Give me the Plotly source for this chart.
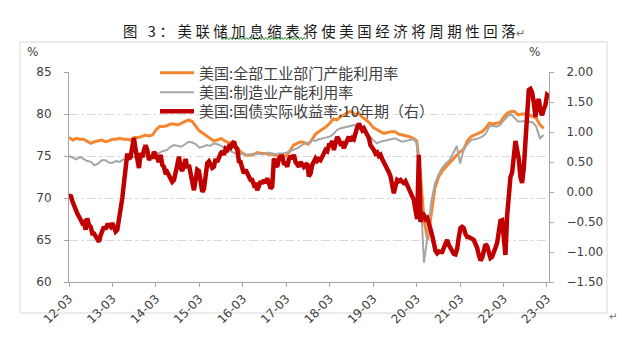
import pandas as pd
import plotly.graph_objects as go

# ---------------- data ----------------
tick_dates = ["2012-03-01", "2013-03-01", "2014-03-01", "2015-03-01", "2016-03-01", "2017-03-01",
              "2018-03-01", "2019-03-01", "2020-03-01", "2021-03-01", "2022-03-01", "2023-03-01"]
tick_labels = ["12-03", "13-03", "14-03", "15-03", "16-03", "17-03",
               "18-03", "19-03", "20-03", "21-03", "22-03", "23-03"]

monthly_start = "2012-03-01"   # monthly series, Mar-2012 ... Feb-2023

# US: total industry capacity utilization (%)
cap_total = [
    77.2, 76.9, 77.1, 77.0, 77.0, 76.7, 76.5, 76.7, 76.8, 76.9, 76.7, 76.8,
    77.0, 77.0, 77.1, 77.0, 77.0, 76.9, 77.2, 77.2, 77.3, 77.5, 77.4, 77.5,
    78.1, 78.5, 78.5, 78.6, 78.8, 78.8, 78.7, 78.9, 79.1, 79.3, 79.1, 78.5,
    78.0, 77.7, 77.4, 77.0, 76.8, 76.9, 77.1, 76.8, 76.6, 76.4, 76.0, 75.6,
    75.3, 75.1, 75.1, 75.2, 75.4, 75.3, 75.3, 75.2, 75.2, 75.1, 75.0, 75.0,
    75.0, 75.6, 76.3, 76.5, 76.7, 76.6, 76.4, 76.9, 77.6, 77.9, 78.2, 78.5,
    78.9, 79.4, 79.3, 79.7, 79.9, 80.2, 80.3, 79.9, 80.1, 79.6, 79.3, 78.9,
    78.4, 78.1, 77.9, 77.7, 77.8, 77.9, 77.9, 77.6, 77.5, 77.4, 77.3, 77.1,
    76.8, 73.0, 67.5, 65.0, 68.3, 71.2, 72.5, 73.2, 73.7, 74.2, 74.7, 75.1,
    75.5, 75.8, 76.8, 77.3, 77.5, 77.7, 77.9, 78.3, 78.9, 78.8, 78.9, 79.0,
    79.6, 80.1, 80.3, 80.3, 79.9, 80.0, 80.0, 79.9, 79.7, 79.5, 78.7, 78.3,
]

# US: manufacturing capacity utilization (%)
cap_manuf = [
    75.0, 74.8, 74.6, 74.9, 74.7, 74.4, 74.3, 73.9, 74.1, 74.5, 74.5, 74.2,
    74.2, 74.4, 74.3, 74.6, 74.5, 74.7, 74.9, 74.8, 74.9, 75.0, 74.9, 75.1,
    75.3, 75.4, 75.6, 75.7, 76.1, 76.3, 76.2, 76.1, 76.4, 76.7, 76.6, 76.4,
    76.0, 76.1, 76.3, 76.2, 76.5, 76.4, 76.2, 75.9, 75.7, 75.5, 75.3, 75.2,
    75.3, 75.1, 75.2, 75.2, 75.3, 75.2, 75.2, 75.4, 75.3, 75.2, 75.3, 75.3,
    75.4, 75.6, 75.7, 75.9, 76.2, 76.5, 76.5, 76.9, 76.8, 77.0, 77.1, 77.2,
    77.3, 77.6, 78.1, 78.3, 78.4, 78.5, 78.6, 78.7, 78.4, 78.1, 77.7, 77.3,
    76.9, 76.5, 76.7, 76.8, 76.9, 77.0, 77.1, 76.9, 76.7, 76.8, 76.9, 77.0,
    76.6, 71.0, 62.3, 65.5, 69.5, 71.7, 72.8, 73.6, 74.1, 74.5, 75.3, 76.2,
    74.1, 75.8, 76.4, 76.9, 77.0, 77.1, 77.3, 77.6, 78.5, 78.6, 78.5, 78.7,
    79.2, 79.7, 80.0, 79.6, 79.1, 79.1, 79.2, 79.1, 79.0, 78.5, 77.1, 77.5,
]

real_start = "2012-03-01"      # 10Y real yield, one reading every 14 days
real_step = "14D"
# US: 10-year Treasury real yield (%), right axis
real_10y = [
    -0.08, -0.05, -0.15, -0.24, -0.30, -0.36, -0.41, -0.47, -0.52, -0.50,
    -0.63, -0.44, -0.55, -0.58, -0.69, -0.69, -0.75, -0.77, -0.83, -0.72,
    -0.66, -0.58, -0.62, -0.55, -0.55, -0.58, -0.52, -0.60, -0.66, -0.63,
    -0.47, -0.30, -0.10, 0.15, 0.40, 0.64, 0.55, 0.59, 0.75, 0.90,
    0.70, 0.48, 0.40, 0.65, 0.58, 0.70, 0.78, 0.70, 0.53, 0.60,
    0.56, 0.67, 0.60, 0.55, 0.50, 0.62, 0.45, 0.42, 0.30, 0.33,
    0.28, 0.25, 0.17, 0.20, 0.30, 0.45, 0.59, 0.40, 0.35, 0.50,
    0.55, 0.40, 0.45, 0.31, 0.15, 0.03, 0.20, 0.37, 0.35, 0.20,
    0.00, 0.05, 0.30, 0.48, 0.51, 0.45, 0.40, 0.42, 0.55, 0.50,
    0.60, 0.64, 0.68, 0.62, 0.72, 0.70, 0.76, 0.74, 0.81, 0.84,
    0.75, 0.72, 0.51, 0.50, 0.40, 0.31, 0.37, 0.30, 0.22, 0.20,
    0.20, 0.12, 0.15, 0.03, 0.10, 0.18, 0.14, 0.20, 0.15, 0.23,
    0.15, 0.06, 0.09, 0.56, 0.45, 0.42, 0.55, 0.59, 0.59, 0.48,
    0.48, 0.42, 0.55, 0.60, 0.55, 0.62, 0.50, 0.47, 0.42, 0.50,
    0.45, 0.42, 0.45, 0.48, 0.26, 0.31, 0.45, 0.53, 0.56, 0.52,
    0.55, 0.53, 0.60, 0.65, 0.70, 0.68, 0.78, 0.78, 0.85, 0.70,
    0.80, 0.92, 0.87, 0.80, 0.81, 0.73, 0.80, 0.85, 0.92, 0.85,
    0.90, 0.88, 1.00, 1.08, 1.14, 1.10, 1.03, 1.06, 1.00, 0.98,
    0.90, 0.78, 0.75, 0.70, 0.64, 0.66, 0.60, 0.62, 0.55, 0.50,
    0.42, 0.38, 0.33, 0.26, 0.12, -0.02, 0.10, 0.20, 0.18, 0.20,
    0.17, 0.15, 0.18, 0.12, 0.05, -0.02, -0.05, -0.13, -0.30, -0.45,
    0.62, -0.50, -0.35, -0.38, -0.45, -0.43, -0.52, -0.60, -0.72, -0.85,
    -0.98, -1.02, -0.99, -1.00, -1.00, -0.93, -0.85, -0.80, -0.88, -0.93,
    -0.98, -1.03, -1.04, -0.95, -0.75, -0.60, -0.58, -0.60, -0.70, -0.75,
    -0.75, -0.76, -0.78, -0.80, -0.86, -0.93, -1.05, -1.14, -1.10, -0.95,
    -0.87, -0.90, -1.03, -1.10, -1.08, -0.97, -0.93, -0.85, -0.60, -0.48,
    -0.47, -0.70, -1.05, -0.40, -0.05, 0.25, 0.32, 0.60, 0.85, 0.70,
    0.55, 0.25, 0.15, 0.40, 0.85, 1.45, 1.70, 1.72, 1.66, 1.50,
    1.25, 1.48, 1.55, 1.35, 1.28, 1.38, 1.45, 1.62, 1.60,
]

name_total = "美国:全部工业部门产能利用率"
name_manuf = "美国:制造业产能利用率"
name_real = "美国:国债实际收益率:10年期（右）"
title_text = "图 3：美联储加息缩表将使美国经济将周期性回落"

# ---------------- figure ----------------
W, H = 622, 340
ML, MR, MT, MB = 69, 73, 72, 58
PW, PH = W - ML - MR, H - MT - MB


def px_x(px):
    return (px - ML) / PW


def px_y(py):
    return (H - MB - py) / PH


m_dates = pd.date_range(monthly_start, periods=len(cap_total), freq="MS")
r_dates = pd.date_range(real_start, periods=len(real_10y), freq=real_step)

ORANGE = "#F5862F"
GRAY = "#A6A6A6"
RED = "#C00000"
TXT = "#404040"
CJK = "Noto Sans CJK SC"

fig = go.Figure()
fig.add_trace(go.Scatter(x=m_dates, y=cap_total, name=name_total, mode="lines",
                         line=dict(color=ORANGE, width=3), legend="legend"))
fig.add_trace(go.Scatter(x=m_dates, y=cap_manuf, name=name_manuf, mode="lines",
                         line=dict(color=GRAY, width=2), legend="legend2"))
fig.add_trace(go.Scatter(x=r_dates, y=real_10y, name=name_real, mode="lines",
                         line=dict(color=RED, width=4.5), yaxis="y2", legend="legend3"))

leg_common = dict(font=dict(family=CJK, size=15, color=TXT), bgcolor="rgba(0,0,0,0)",
                  xanchor="left", yanchor="middle", x=px_x(155), itemwidth=34)

fig.update_layout(
    width=W, height=H,
    margin=dict(l=ML, r=MR, t=MT, b=MB, pad=0),
    paper_bgcolor="white", plot_bgcolor="white",
    showlegend=True,
    legend=dict(**leg_common, y=px_y(73)),
    legend2=dict(**leg_common, y=px_y(92.5)),
    legend3=dict(**leg_common, y=px_y(111.5)),
    xaxis=dict(
        type="date", range=["2012-03-01", "2023-03-18"],
        tickvals=tick_dates, ticktext=tick_labels, tickangle=-45,
        showgrid=False, zeroline=False,
        showline=True, linecolor="#A6A6A6", linewidth=1,
        ticks="outside", ticklen=4, tickcolor="#A6A6A6",
        tickfont=dict(family="DejaVu Sans", size=12, color=TXT),
    ),
    yaxis=dict(
        range=[60, 85], tickvals=[60, 65, 70, 75, 80, 85],
        showgrid=True, gridcolor="#D9D9D9", gridwidth=1, griddash="dashdot",
        zeroline=False, showline=True, linecolor="#A6A6A6", linewidth=1,
        ticks="outside", ticklen=4, tickcolor="#A6A6A6", ticklabelstandoff=10,
        tickfont=dict(family="DejaVu Sans", size=12, color=TXT),
    ),
    yaxis2=dict(
        overlaying="y", side="right", range=[-1.5, 2.0], dtick=0.5, tick0=-1.5,
        tickformat=".2f", showgrid=False, zeroline=False,
        showline=True, linecolor="#A6A6A6", linewidth=1,
        ticks="outside", ticklen=4, tickcolor="#A6A6A6", ticklabelstandoff=10,
        tickfont=dict(family="DejaVu Sans", size=12, color=TXT),
    ),
)

# outer chart frame
fig.add_shape(type="rect", xref="paper", yref="paper",
              x0=px_x(20), x1=px_x(607), y0=px_y(313), y1=px_y(42),
              line=dict(color="#D9D9D9", width=1), layer="below")

# title (spaced like the document caption) with paragraph mark
spaced = "\u2005".join(list(title_text))
fig.add_annotation(xref="paper", yref="paper", x=px_x(121), y=px_y(30),
                   xanchor="left", yanchor="middle", showarrow=False,
                   text=spaced + "<span style='font-size:11px;color:#707070'>↵</span>",
                   font=dict(family=CJK, size=14.4, color="#1A1A1A"))

# wavy proofing underline under 加息缩表
x0p, x1p, yp = 221, 306, 38.5
pts = []
i = 0
xx = x0p
while xx <= x1p:
    pts.append((xx, yp + (1.2 if i % 2 else -1.2)))
    xx += 1.6
    i += 1
path = "M " + " L ".join(f"{px_x(a):.5f},{px_y(b):.5f}" for a, b in pts)
fig.add_shape(type="path", xref="paper", yref="paper", path=path,
              line=dict(color="#3C9A3C", width=1))

# unit labels
fig.add_annotation(xref="paper", yref="paper", x=px_x(32), y=px_y(52), text="%",
                   showarrow=False, xanchor="center", yanchor="middle",
                   font=dict(family="DejaVu Sans", size=12, color=TXT))
fig.add_annotation(xref="paper", yref="paper", x=px_x(534), y=px_y(52), text="%",
                   showarrow=False, xanchor="center", yanchor="middle",
                   font=dict(family="DejaVu Sans", size=12, color=TXT))
# trailing paragraph mark
fig.add_annotation(xref="paper", yref="paper", x=px_x(613), y=px_y(316), text="↵",
                   showarrow=False, xanchor="center", yanchor="middle",
                   font=dict(family="DejaVu Sans", size=10, color="#707070"))

fig.write_html("out.html")
